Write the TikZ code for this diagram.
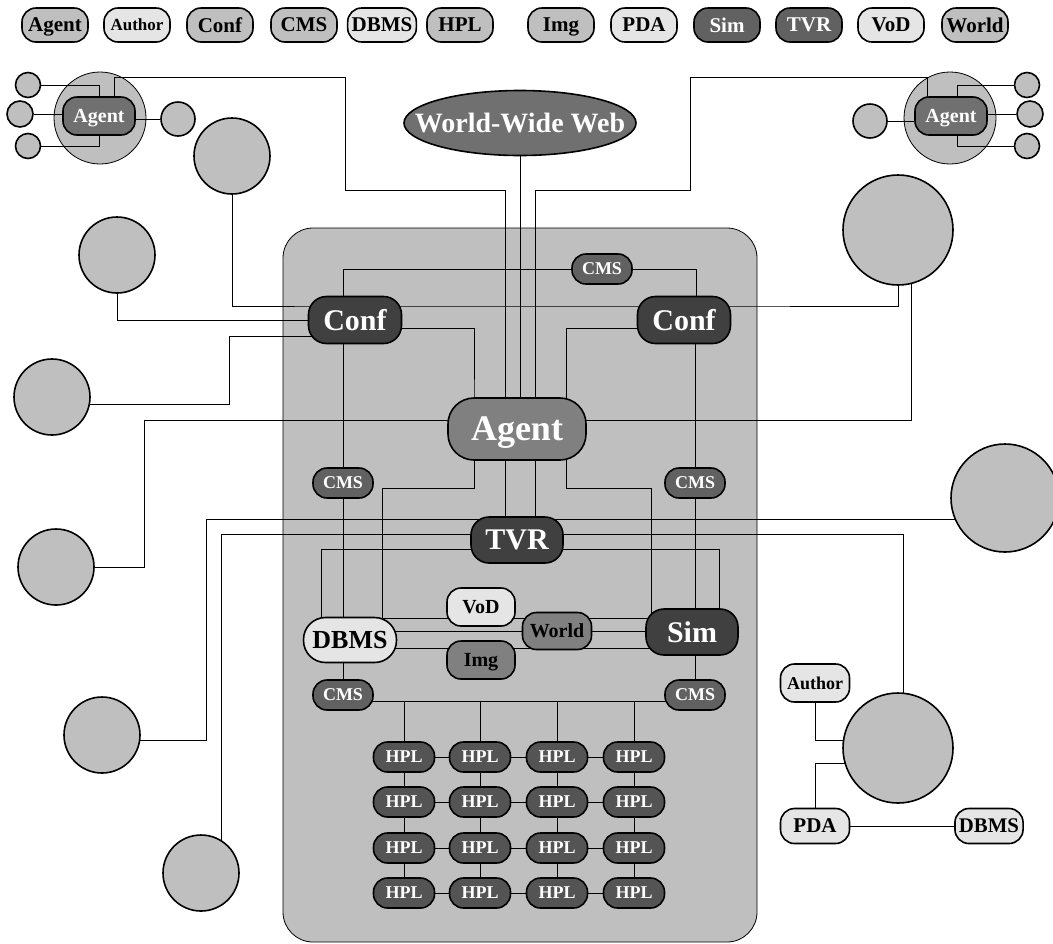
\documentclass[tikz,border=0pt]{standalone}
\usepackage{fontspec}
\setmainfont{Liberation Serif}
\usetikzlibrary{shapes.geometric, backgrounds}

\definecolor{lite}{gray}{0.90}
\definecolor{mid}{gray}{0.75}
\definecolor{agc}{gray}{0.50}
\definecolor{clag}{gray}{0.44}
\definecolor{cms}{gray}{0.38}
\definecolor{hplc}{gray}{0.33}
\definecolor{dark}{gray}{0.25}
\newcommand\fsz[1]{\fontsize{#1}{#1}\selectfont}

\begin{document}
\begin{tikzpicture}[
  x=0.5pt, y=-0.5pt, line width=0.8pt,
  pill/.style={draw, rounded corners=7pt, inner xsep=2pt, inner ysep=0pt, font=\bfseries,
    text depth=0pt},
  keybox/.style={pill, minimum width=33pt, minimum height=17pt, rounded corners=7pt},
  blob/.style={draw, circle, fill=mid, inner sep=0pt, minimum size=#1},
  conf/.style={pill, fill=dark, text=white, minimum width=46.5pt, minimum height=23.5pt, rounded corners=9pt, font=\bfseries\fsz{15}},
  cmsbox/.style={pill, fill=cms, text=white, minimum width=30pt, minimum height=15pt, font=\bfseries\fsz{9}},
  hpl/.style={pill, fill=hplc, text=white, minimum width=30.5pt, minimum height=15pt, font=\bfseries\fsz{9}},
  small/.style={pill, minimum width=34pt, minimum height=19pt, font=\bfseries\fsz{10}}
]
\useasboundingbox (0,0) rectangle (1053,943);

% legend row
\foreach \t/\x/\c/\f/\s [count=\i] in {Agent/55/mid/black/10.5, Author/137/lite/black/8.5,
    Conf/220/mid/black/10.5, CMS/304/mid/black/10.5, DBMS/382/lite/black/10.5,
    HPL/460/mid/black/10.5, Img/561/mid/black/10.5, PDA/644/lite/black/10.5,
    Sim/727/cms/white/10.5, TVR/809/cms/white/10.5, VoD/891/lite/black/10.5,
    World/975/mid/black/10.5}
  \node[keybox, fill=\c, text=\f, font=\bfseries\fsz{\s}] (key\i) at (\x,25) {\t};

% the web
\node[draw, ellipse, fill=clag, text=white, minimum width=116pt, minimum height=32.5pt,
  inner sep=0pt, font=\bfseries\fsz{14}] (www) at (520,123) {\makebox[0pt]{World-Wide Web}};

% agent clusters
\node[small, fill=clag, text=white, minimum width=36pt] (agl) at (99,116) {Agent};
\node[blob=12.5pt] (sl1) at (28,85) {};
\node[blob=13pt] (sl2) at (20,114) {};
\node[blob=12.5pt] (sl3) at (28,146) {};
\node[blob=17pt] (sl4) at (178,119) {};
\node[small, fill=clag, text=white, minimum width=36pt] (agr) at (951,116) {Agent};
\node[blob=12.5pt] (sr1) at (1027,85) {};
\node[blob=13pt] (sr2) at (1030,114) {};
\node[blob=12.5pt] (sr3) at (1027,146) {};
\node[blob=17pt] (sr4) at (870,121) {};

% outer sites
\node[blob=38pt] (o1) at (232,156) {};
\node[blob=38pt] (o2) at (117,255) {};
\node[blob=38pt] (o3) at (52,397) {};
\node[blob=38pt] (o4) at (56,567) {};
\node[blob=38pt] (o5) at (102,735) {};
\node[blob=38pt] (o6) at (201,873) {};
\node[blob=55pt] (o7) at (898,230) {};
\node[blob=54pt] (o8) at (1005,498) {};
\node[blob=55pt] (o9) at (898,748) {};

% core
\node[conf] (cfl) at (355,320) {Conf};
\node[conf] (cfr) at (684,320) {Conf};
\node[cmsbox] (cmt) at (602,269) {CMS};
\node[pill, fill=agc, text=white, minimum width=69pt, minimum height=31pt,
  rounded corners=13pt, font=\bfseries\fsz{18}] (ag) at (517,429) {Agent};
\node[cmsbox] (cml) at (343,483) {CMS};
\node[cmsbox] (cmr) at (695,483) {CMS};
\node[conf, minimum width=46pt, minimum height=23pt] (tvr) at (517,540) {TVR};
\node[conf, minimum width=46pt, minimum height=23pt] (sim) at (692,632) {Sim};
\node[pill, fill=lite, minimum width=46.5pt, minimum height=22.5pt, rounded corners=11pt,
  font=\bfseries\fsz{13}] (dbl) at (350,640) {DBMS};
\node[small, fill=lite] (vod) at (481,607) {VoD};
\node[small, fill=agc, minimum width=34.5pt, minimum height=18.5pt] (wld) at (557,631) {World};
\node[small, fill=agc] (img) at (481,660) {Img};
\node[cmsbox] (cbl) at (343,695) {CMS};
\node[cmsbox] (cbr) at (695,695) {CMS};
\foreach \r/\y in {1/757, 2/802, 3/848, 4/893}
  \foreach \c/\x in {1/404, 2/480, 3/557, 4/634}
    \node[hpl] (h-\r-\c) at (\x,\y) {HPL};

% remote corner
\node[small, fill=lite, minimum width=34.5pt, font=\bfseries\fsz{9}] (aut) at (815,683) {Author};
\node[small, fill=lite, minimum width=34.5pt, minimum height=17.5pt, font=\bfseries\fsz{10.5}] (pda) at (815,826) {PDA};
\node[small, fill=lite, minimum height=17.5pt, font=\bfseries\fsz{10.4}] (dbr) at (989,826) {DBMS};

\begin{pgfonlayer}{background}
\draw[fill=mid, rounded corners=15pt] (283,228) rectangle (757,942);
\node[blob=46pt] (bgl) at (100,118) {};
\node[blob=46pt] (bgr) at (950,118) {};

\draw (sl1) -| (agl);
\draw (sl2) -- (agl.west |- sl2);
\draw (sl3) -| (agl);
\draw (sl4) -- (sl4 -| agl.east);
\draw (sr1) -| ([xshift=3pt]agr.center);
\draw (sr2) -- (sr2 -| agr.east);
\draw (sr3) -| ([xshift=3pt]agr.center);
\draw (sr4) -- (sr4 -| agr.west);

\draw ([xshift=7.5pt]agl.center) |- (345,77) -- (345,190) -| ([xshift=-6pt]tvr.center);
\draw ([xshift=-12pt]agr.center) |- (690,77) -- (690,190) -| ([xshift=9pt]tvr.center);
\draw (www) -- (www |- ag);

\draw (o1) |- ([yshift=7pt]cfl.center) -- ([yshift=7pt]cfr.center) -| (o7);
\draw (o2) |- (cfl);
\draw ([yshift=-3.5pt]o3.center) -| (229,336) -- ([yshift=-8pt]cfl.center);
\draw (o4) -| (144,420) -- ([yshift=4.5pt]ag.center) -| ([xshift=6.5pt]o7.center);
\draw ([yshift=-2.5pt]o5.center) -| (206,519) -- ([yshift=-10.5pt]o8.center);
\draw ([xshift=10pt]o6.center) -- (221,534) -| ([xshift=2.5pt]o9.center);

\draw ([xshift=-6pt]cfl.center) |- (cmt) -| ([xshift=6pt]cfr.center);
\draw ([yshift=-4pt]cfl.center) -| ([xshift=-21.5pt]ag.center) |- (382,488) |- ([yshift=7pt]sim.center);
\draw ([yshift=-4pt]cfr.center) -| ([xshift=24.5pt]ag.center) |- (651,488) -- ([xshift=-20.5pt]sim.center);
\draw (cml |- cfl) -- (cbl);
\draw (cmr |- cfr) -- (cbr);
\draw ([yshift=-4.5pt]tvr.center) -| ([xshift=-14.5pt]dbl.center);
\draw ([yshift=-4.5pt]tvr.center) -| ([xshift=13.5pt]sim.center);
\draw (dbl.center |- wld) -- (sim.center |- wld);
\draw ([yshift=-4pt]dbl.center) -- ([yshift=-8pt]sim.center);

\coordinate (bus) at (520,701);
\draw (cbl |- bus) -- (cbr |- bus);
\foreach \c in {1,...,4}
  \draw (h-1-\c) -- (h-1-\c |- bus);
\foreach \r in {1,...,4}
  \foreach \c/\n in {1/2, 2/3, 3/4}
    \draw (h-\r-\c) -- (h-\r-\n);
\foreach \c in {1,...,4}
  \foreach \r/\n in {1/2, 2/3, 3/4}
    \draw (h-\r-\c) -- (h-\n-\c);

\draw (aut) |- ([yshift=4pt]o9.center);
\draw (pda) |- ([yshift=-7.5pt]o9.center);
\draw (pda) -- (dbr);
\end{pgfonlayer}
\end{tikzpicture}
\end{document}
